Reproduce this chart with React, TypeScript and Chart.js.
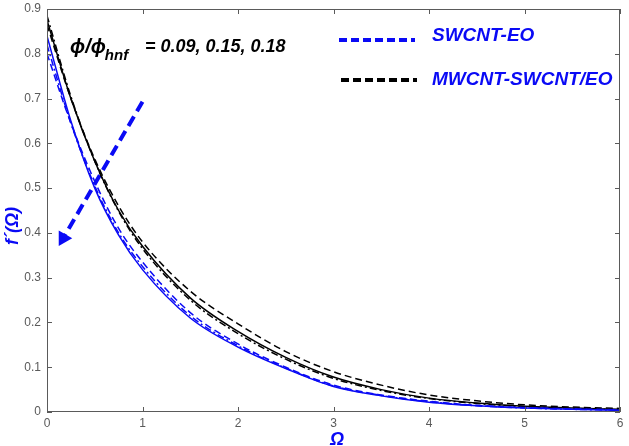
import React, { useEffect, useRef } from "react";
import { Chart, registerables } from "chart.js";

Chart.register(...registerables);

const xs = [0, 0.25, 0.5, 0.75, 1, 1.5, 2, 2.5, 3, 3.5, 4, 4.5, 5, 5.5, 6];
const blackSolid = [0.875, 0.70, 0.56, 0.45, 0.37, 0.255, 0.18, 0.122, 0.078, 0.05, 0.031, 0.02, 0.013, 0.009, 0.006];
const blackDashed = [0.865, 0.70, 0.565, 0.46, 0.38, 0.27, 0.197, 0.135, 0.09, 0.06, 0.038, 0.025, 0.016, 0.011, 0.008];
const blackDotted = [0.885, 0.705, 0.56, 0.448, 0.365, 0.25, 0.175, 0.118, 0.075, 0.048, 0.03, 0.019, 0.012, 0.008, 0.005];
const blueSolid = [0.84, 0.65, 0.5, 0.395, 0.318, 0.21, 0.145, 0.097, 0.057, 0.036, 0.022, 0.014, 0.009, 0.006, 0.004];
const blueDashed = [0.80, 0.645, 0.515, 0.41, 0.335, 0.222, 0.152, 0.1, 0.06, 0.038, 0.024, 0.015, 0.01, 0.007, 0.005];
const blueDashDot = [0.82, 0.645, 0.505, 0.4, 0.325, 0.215, 0.148, 0.098, 0.058, 0.037, 0.023, 0.014, 0.009, 0.006, 0.004];
const arrowX = [1, 0.17];
const arrowY = [0.693, 0.388];
const xTicks = [0, 1, 2, 3, 4, 5, 6];
const yTicks = [0, 0.1, 0.2, 0.3, 0.4, 0.5, 0.6, 0.7, 0.8, 0.9];
const legendLabels = ["SWCNT-EO", "MWCNT-SWCNT/EO"];
const annotationParts = ["\u03d5/\u03d5", "hnf", "= 0.09, 0.15, 0.18"];

const BLUE = "rgb(10,10,245)";
const BLACK = "rgb(0,0,0)";
const GRAY = "rgb(90,90,90)";
const FONT = "Arial, 'Liberation Sans', sans-serif";

const toPts = (ys: number[]) => xs.map((x, i) => ({ x, y: ys[i] }));

const overlay = {
  id: "overlay",
  afterDraw(chart: any) {
    const ctx = chart.ctx as CanvasRenderingContext2D;
    const { left, right, top, bottom } = chart.chartArea;
    const xs_ = chart.scales.x;
    const ys_ = chart.scales.y;
    ctx.save();
    ctx.strokeStyle = GRAY;
    ctx.lineWidth = 1;
    ctx.strokeRect(left + 0.5, top + 0.5, right - left - 1, bottom - top - 1);
    ctx.beginPath();
    xTicks.forEach((t) => {
      const px = Math.round(xs_.getPixelForValue(t)) + 0.5;
      ctx.moveTo(px, bottom);
      ctx.lineTo(px, bottom - 5);
      ctx.moveTo(px, top);
      ctx.lineTo(px, top + 5);
    });
    yTicks.forEach((t) => {
      const py = Math.round(ys_.getPixelForValue(t)) + 0.5;
      ctx.moveTo(left, py);
      ctx.lineTo(left + 5, py);
      ctx.moveTo(right, py);
      ctx.lineTo(right - 5, py);
    });
    ctx.stroke();

    // annotation
    ctx.fillStyle = BLACK;
    ctx.textBaseline = "alphabetic";
    ctx.textAlign = "left";
    ctx.font = `bold italic 20px ${FONT}`;
    ctx.fillText(annotationParts[0], 70, 53);
    const w0 = ctx.measureText(annotationParts[0]).width;
    ctx.font = `bold italic 15px ${FONT}`;
    ctx.fillText(annotationParts[1], 70 + w0 - 1, 60);
    ctx.font = `bold italic 18px ${FONT}`;
    ctx.fillText(annotationParts[2], 145, 52);

    // legend
    ctx.lineWidth = 4;
    ctx.setLineDash([8, 4]);
    ctx.strokeStyle = BLUE;
    ctx.beginPath();
    ctx.moveTo(339, 40);
    ctx.lineTo(415, 40);
    ctx.stroke();
    ctx.strokeStyle = BLACK;
    ctx.beginPath();
    ctx.moveTo(341, 80);
    ctx.lineTo(417, 80);
    ctx.stroke();
    ctx.setLineDash([]);
    ctx.fillStyle = BLUE;
    ctx.font = `bold italic 19px ${FONT}`;
    ctx.textBaseline = "middle";
    ctx.fillText(legendLabels[0], 432, 36);
    ctx.fillText(legendLabels[1], 432, 80);

    // axis titles
    ctx.fillStyle = BLUE;
    ctx.font = `bold italic 18px ${FONT}`;
    ctx.textAlign = "center";
    ctx.fillText("\u03a9", 337, 440);
    ctx.save();
    ctx.translate(13, 226);
    ctx.rotate(-Math.PI / 2);
    ctx.fillText("f\u00b4(\u03a9)", 0, 0);
    ctx.restore();
    ctx.restore();
  },
};

export default function App() {
  const ref = useRef<HTMLCanvasElement>(null);
  useEffect(() => {
    document.body.style.margin = "0";
    const common = { pointRadius: 0, borderWidth: 1.5, fill: false, cubicInterpolationMode: "monotone" as const };
    const chart = new Chart(ref.current!, {
      type: "line",
      data: {
        datasets: [
          { ...common, data: toPts(blueSolid), borderColor: BLUE },
          { ...common, data: toPts(blueDashed), borderColor: BLUE, borderDash: [7, 4] },
          { ...common, data: toPts(blueDashDot), borderColor: BLUE, borderDash: [7, 3, 2, 3] },
          { ...common, data: toPts(blackSolid), borderColor: BLACK },
          { ...common, data: toPts(blackDashed), borderColor: BLACK, borderDash: [7, 4] },
          { ...common, data: toPts(blackDotted), borderColor: BLACK, borderDash: [7, 3, 2, 3] },
          {
            data: arrowX.map((x, i) => ({ x, y: arrowY[i] })),
            borderColor: BLUE,
            backgroundColor: BLUE,
            borderWidth: 4,
            borderDash: [11, 6],
            fill: false,
            pointRadius: [0, 5],
            pointStyle: "triangle",
            rotation: 210,
          } as any,
        ],
      },
      options: {
        animation: false,
        responsive: false,
        maintainAspectRatio: false,
        layout: { padding: { top: 7, right: 4, left: 0, bottom: 0 } },
        plugins: { legend: { display: false }, tooltip: { enabled: false } },
        scales: {
          x: {
            type: "linear",
            min: 0,
            max: 6,
            afterFit: (s: any) => { s.height = 34; s.paddingLeft = 0; s.paddingRight = 0; },
            afterBuildTicks: (s: any) => { s.ticks = xTicks.map((v) => ({ value: v })); },
            grid: { display: false, drawTicks: false },
            border: { display: false },
            ticks: { color: GRAY, font: { family: FONT, size: 12 }, padding: 4 },
          },
          y: {
            type: "linear",
            min: 0,
            max: 0.9,
            afterFit: (s: any) => { s.width = 47; s.paddingTop = 0; s.paddingBottom = 0; },
            afterBuildTicks: (s: any) => { s.ticks = yTicks.map((v) => ({ value: v })); },
            grid: { display: false, drawTicks: false },
            border: { display: false },
            ticks: { color: GRAY, font: { family: FONT, size: 12 }, padding: 6 },
          },
        },
      },
      plugins: [overlay],
    });
    return () => chart.destroy();
  }, []);
  return <canvas ref={ref} width={629} height={446} style={{ display: "block" }} />;
}
